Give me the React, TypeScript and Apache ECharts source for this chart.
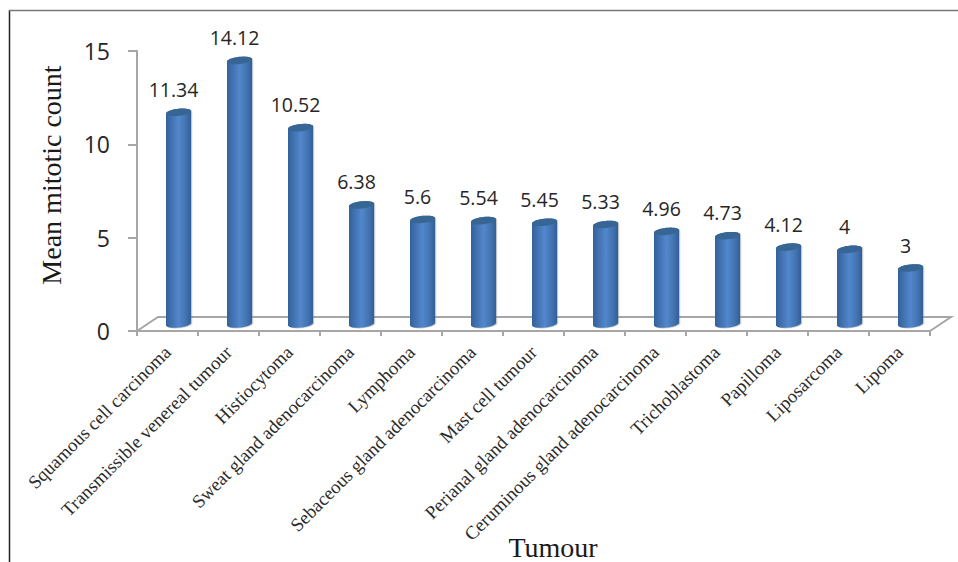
import React, { useEffect, useRef } from "react";
import * as echarts from "echarts";

const tumours = [
  "Squamous cell carcinoma",
  "Transmissible venereal tumour",
  "Histiocytoma",
  "Sweat gland adenocarcinoma",
  "Lymphoma",
  "Sebaceous gland adenocarcinoma",
  "Mast cell tumour",
  "Perianal gland adenocarcinoma",
  "Ceruminous gland adenocarcinoma",
  "Trichoblastoma",
  "Papilloma",
  "Liposarcoma",
  "Lipoma",
];
const mitoticCounts = [11.34, 14.12, 10.52, 6.38, 5.6, 5.54, 5.45, 5.33, 4.96, 4.73, 4.12, 4, 3];
const valueLabels = ["11.34", "14.12", "10.52", "6.38", "5.6", "5.54", "5.45", "5.33", "4.96", "4.73", "4.12", "4", "3"];

const AXIS_GREY = "#a6a6a6";
const SERIF = '"Liberation Serif", serif';
const SANS = '"Open Sans", sans-serif';

// Cylinder placement relative to the category band: the 3D floor shifts it back and to the right.
const DEPTH_X = 11;
const DEPTH_Y = -7;
const RADIUS_X = 12.5;
const RADIUS_Y = 3.6;
const TILT = 0.1;

function ellipsePoints(cx: number, cy: number, from: number, to: number, steps = 28) {
  const pts: number[][] = [];
  for (let i = 0; i <= steps; i++) {
    const a = from + ((to - from) * i) / steps;
    const x = RADIUS_X * Math.cos(a);
    const y = RADIUS_Y * Math.sin(a);
    pts.push([cx + x, cy + y - x * TILT]);
  }
  return pts;
}

function renderCylinder(params: any, api: any) {
  const i = api.value(0);
  const value = api.value(1);
  const top = api.coord([i, value]);
  const base = api.coord([i, 0]);
  const cx = top[0] + DEPTH_X;
  const topY = top[1] + DEPTH_Y;
  const baseY = base[1] + DEPTH_Y;
  // Outline: lower rim from right to left, then the far rim of the top back to the right
  const body = [...ellipsePoints(cx, baseY, 0, Math.PI), ...ellipsePoints(cx, topY, Math.PI, 2 * Math.PI)];
  return {
    type: "group",
    children: [
      {
        type: "polygon",
        shape: { points: body.map((p) => [p[0] + 1.2, p[1] + 0.6]) },
        style: { fill: "rgba(120,130,145,0.45)" },
      },
      {
        type: "polygon",
        shape: { points: body },
        style: {
          fill: new echarts.graphic.LinearGradient(0, 0, 1, 0, [
            { offset: 0, color: "#33619a" },
            { offset: 0.2, color: "#4070ae" },
            { offset: 0.5, color: "#5287cc" },
            { offset: 0.8, color: "#4273b0" },
            { offset: 1, color: "#315e95" },
          ]),
        },
      },
      {
        type: "polygon",
        shape: { points: ellipsePoints(cx, topY, 0, 2 * Math.PI, 40) },
        style: { fill: "#386694" },
      },
      {
        type: "text",
        style: {
          text: valueLabels[i],
          x: cx - 5,
          y: topY - 23,
          align: "center",
          verticalAlign: "middle",
          font: `19.5px ${SANS}`,
          fill: "#262626",
        },
      },
    ],
  };
}

export default function App() {
  const ref = useRef<HTMLDivElement>(null);

  useEffect(() => {
    const chart = echarts.init(ref.current!, undefined, { renderer: "svg" });
    chart.setOption({
      animation: false,
      backgroundColor: "#ffffff",
      grid: { left: 137, right: 28, top: 51, bottom: 231 },
      xAxis: {
        type: "category",
        data: tumours,
        boundaryGap: true,
        axisLine: { show: true, lineStyle: { color: AXIS_GREY, width: 2 } },
        axisTick: { show: true, length: 5, alignWithLabel: false, lineStyle: { color: AXIS_GREY, width: 2 } },
        axisLabel: {
          interval: 0,
          rotate: 45,
          margin: 18,
          color: "#2b2b2b",
          fontFamily: SERIF,
          fontSize: 18.8,
        },
      },
      yAxis: {
        type: "value",
        min: 0,
        max: 15,
        interval: 5,
        splitLine: { show: false },
        axisLine: { show: true, lineStyle: { color: AXIS_GREY, width: 2 } },
        axisTick: { show: true, length: 9, lineStyle: { color: AXIS_GREY, width: 2 } },
        axisLabel: { margin: 27, color: "#262626", fontFamily: SANS, fontSize: 23 },
      },
      series: [
        {
          type: "custom",
          z: 5,
          clip: false,
          renderItem: renderCylinder,
          encode: { x: 0, y: 1 },
          data: mitoticCounts.map((v, i) => [i, v]),
        },
      ],
      graphic: [
        // outer frame: left and top rules only
        { type: "line", z: 0, shape: { x1: 9.5, y1: 10, x2: 9.5, y2: 562 }, style: { stroke: "#222222", lineWidth: 1.5 } },
        { type: "line", z: 0, shape: { x1: 9, y1: 10.5, x2: 958, y2: 10.5 }, style: { stroke: "#777777", lineWidth: 1.5 } },
        // floor of the 3D plot
        {
          type: "polyline",
          z: 0,
          shape: { points: [[137, 331], [158, 317], [951, 317], [930, 331]] },
          style: { stroke: AXIS_GREY, lineWidth: 2, fill: "none" },
        },
        {
          type: "text",
          z: 10,
          x: 51,
          y: 175,
          rotation: Math.PI / 2,
          style: {
            text: "Mean mitotic count",
            align: "center",
            verticalAlign: "middle",
            font: `28px ${SERIF}`,
            fill: "#1a1a1a",
          },
        },
        {
          type: "text",
          z: 10,
          x: 553,
          y: 547,
          style: {
            text: "Tumour",
            align: "center",
            verticalAlign: "middle",
            font: `28px ${SERIF}`,
            fill: "#1a1a1a",
          },
        },
      ],
    });
    return () => chart.dispose();
  }, []);

  return <div ref={ref} style={{ position: "absolute", left: 0, top: 0, width: 958, height: 562 }} />;
}
